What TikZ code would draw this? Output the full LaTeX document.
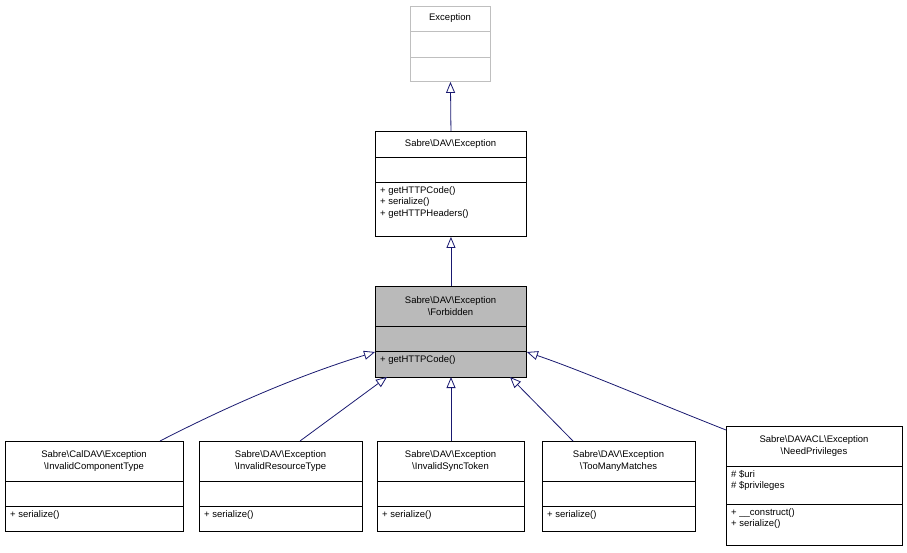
\documentclass[tikz,border=0pt]{standalone}
\usepackage{fontspec}
\setmainfont{Liberation Sans}
\usetikzlibrary{arrows.meta}
\definecolor{edge}{HTML}{191970}
\tikzset{
  plain/.style={draw=black,fill=white},
  ghost/.style={draw=black!25,fill=white},
  grey/.style={draw=black,fill=black!27},
  ttl/.style={font=\fontsize{9.5}{11.5}\selectfont,align=center,inner sep=0pt},
  mem/.style={font=\fontsize{9.5}{11.5}\selectfont,align=left,inner sep=0pt,anchor=north west},
  inh/.style={draw=edge,line width=0.8pt,-{Triangle[open,width=9pt,length=11pt,fill=white]}}
}
% name, x1,y1,x2,y2,sep1,sep2, style, title
\newcommand\umlbox[9]{%
  \node[#8,line width=0.9pt,inner sep=0pt,anchor=north west,minimum width={#4-#2},minimum height={#5-#3}] (#1) at (#2,#3) {};
  \draw[#8,line width=0.9pt] (#2,#6) -- (#4,#6) (#2,#7) -- (#4,#7);
  \node[ttl] (#1t) at ({(#2+#4)/2},{(#3+#6)/2}) {#9};
}
\newcommand\umlmem[4]{\node[mem] (#1) at (#2+5,#3+4) {#4};}
\begin{document}
\begin{tikzpicture}[x=1pt,y=-1pt]
\useasboundingbox (0,0) rectangle (907,552);
\umlbox{exc}{410}{6}{490}{81}{31}{57}{ghost}{Exception}
\umlbox{dav}{375}{131}{526}{236}{157}{182}{plain}{Sabre\textbackslash DAV\textbackslash Exception}
\umlmem{davm}{375}{182}{+ getHTTPCode()\\+ serialize()\\+ getHTTPHeaders()}
\umlbox{forb}{375}{286}{526}{377}{326}{351}{grey}{Sabre\textbackslash DAV\textbackslash Exception\\\textbackslash Forbidden}
\umlmem{forbm}{375}{351}{+ getHTTPCode()}
\umlbox{c1}{5}{441}{183}{531}{481}{506}{plain}{Sabre\textbackslash CalDAV\textbackslash Exception\\\textbackslash InvalidComponentType}
\umlmem{c1m}{5}{506}{+ serialize()}
\umlbox{c2}{199}{441}{362}{531}{481}{506}{plain}{Sabre\textbackslash DAV\textbackslash Exception\\\textbackslash InvalidResourceType}
\umlmem{c2m}{199}{506}{+ serialize()}
\umlbox{c3}{377}{441}{524}{531}{481}{506}{plain}{Sabre\textbackslash DAV\textbackslash Exception\\\textbackslash InvalidSyncToken}
\umlmem{c3m}{377}{506}{+ serialize()}
\umlbox{c4}{542}{441}{695}{531}{481}{506}{plain}{Sabre\textbackslash DAV\textbackslash Exception\\\textbackslash TooManyMatches}
\umlmem{c4m}{542}{506}{+ serialize()}
\umlbox{c5}{726}{426}{902}{545}{466}{504}{plain}{Sabre\textbackslash DAVACL\textbackslash Exception\\\textbackslash NeedPrivileges}
\umlmem{c5a}{726}{466}{\# \$uri\\\# \$privileges}
\umlmem{c5m}{726}{504}{+ \_\_construct()\\+ serialize()}
\draw[inh] (dav.north) -- (exc.south);
\draw[inh] (forb.north) -- (dav.south);
\draw[inh] (c1.north -| 160,0) .. controls (230,405) and (300,375) .. (forb.west |- 0,352);
\draw[inh] (c2.north -| 300,0) -- (387,377);
\draw[inh] (c3.north -| 451,0) -- (451,377);
\draw[inh] (c4.north -| 573,0) -- (510,377);
\draw[inh] (c5.north west) ++(0,4) .. controls (650,400) and (580,370) .. (forb.east |- 0,352);
\end{tikzpicture}
\end{document}
